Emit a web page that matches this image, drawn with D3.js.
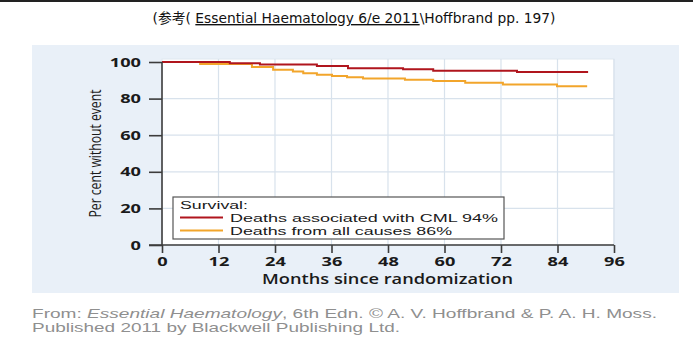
<!DOCTYPE html>
<html><head><meta charset="utf-8">
<script src="https://cdn.jsdelivr.net/npm/d3@7"></script>
<style>
html,body{margin:0;padding:0;background:#fff;}
svg{display:block;}
</style></head>
<body>
<svg id="chart" width="693" height="340"></svg>
<script>
// Data (months, per cent without event) – step curves
const cmlMonths   = [0, 14.4, 20.8, 32.9, 39.5, 51.2, 57.6, 75.4, 90.5];
const cmlValues   = [100, 99.3, 98.7, 97.8, 96.6, 96.0, 95.2, 94.6, 94.6];
const allMonths   = [0, 8.1, 19.1, 23.6, 27.8, 30.0, 32.9, 36.1, 39.3, 42.7, 51.6, 57.6, 64.4, 72.4, 83.9, 90.3];
const allValues   = [100, 98.9, 97.2, 95.7, 94.8, 93.9, 93.0, 92.4, 91.7, 91.0, 90.3, 89.6, 88.6, 87.7, 86.8, 86.8];
const xTicks = [0, 12, 24, 36, 48, 60, 72, 84, 96];
const yTicks = [0, 20, 40, 60, 80, 100];
const legendTitle = "Survival:";
const legendLabels = ["Deaths associated with CML 94%", "Deaths from all causes 86%"];
const seriesColors = ["#b0151d", "#f2a52b"];

const svg = d3.select("#chart");

// top rule
svg.append("rect").attr("x",0).attr("y",0).attr("width",693).attr("height",2).attr("fill","#222");

// title
const title = svg.append("text").attr("x",354).attr("y",23).attr("text-anchor","middle")
  .style("font-family","'DejaVu Sans', 'Noto Sans CJK SC', sans-serif").style("font-size","13.8px").attr("fill","#111");
title.append("tspan").text("(参考( ");
title.append("tspan").attr("text-decoration","underline").text("Essential Haematology 6/e 2011");
title.append("tspan").text("\\Hoffbrand pp. 197)");

// panel
svg.append("rect").attr("x",32).attr("y",45).attr("width",647).attr("height",248).attr("fill","#e9f0f8");

const x = d3.scaleLinear().domain([0,96]).range([162,614]);
const y = d3.scaleLinear().domain([0,100]).range([245,62]);

// plot white area
svg.append("rect").attr("x",x(0)).attr("y",59).attr("width",x(96)-x(0)).attr("height",y(0)-59)
  .attr("fill","#fff").attr("stroke","#dfe7ef").attr("stroke-width",1);

// gridlines
const g = svg.append("g");
g.selectAll(".vg").data(xTicks.filter(d=>d>0)).join("line")
  .attr("x1",d=>x(d)).attr("x2",d=>x(d)).attr("y1",59).attr("y2",y(0))
  .attr("stroke","#d8e2ec").attr("stroke-width",1.2);
g.selectAll(".hg").data(yTicks.filter(d=>d>0 && d<100)).join("line")
  .attr("x1",x(0)).attr("x2",x(96)).attr("y1",d=>y(d)).attr("y2",d=>y(d))
  .attr("stroke","#d8e2ec").attr("stroke-width",1.2);

// curves
const line = d3.line().x(d=>x(d[0])).y(d=>y(d[1])).curve(d3.curveStepAfter);
const allData = allMonths.map((m,i)=>[m, allValues[i]]);
const cmlData = cmlMonths.map((m,i)=>[m, cmlValues[i]]);
svg.append("path").attr("d",line(allData)).attr("fill","none").attr("stroke",seriesColors[1]).attr("stroke-width",2);
svg.append("path").attr("d",line(cmlData)).attr("fill","none").attr("stroke",seriesColors[0]).attr("stroke-width",2);

// axes
const axisFont = "'Open Sans', sans-serif";
const yAxis = svg.append("g").attr("transform",`translate(${x(0)},0)`)
  .call(d3.axisLeft(y).tickValues(yTicks).tickSize(13).tickPadding(8));
const xAxis = svg.append("g").attr("transform",`translate(0,${y(0)})`)
  .call(d3.axisBottom(x).tickValues(xTicks).tickSize(8).tickPadding(4));
[xAxis,yAxis].forEach(a=>{
  a.select(".domain").remove();
  a.selectAll("line").attr("stroke","#3c3c3c").attr("stroke-width",1.6);
  a.selectAll("text").style("font-family",axisFont).style("font-size","13px").style("font-weight","700").attr("fill","#1a1a1a")
    .attr("textLength",function(){return this.textContent.length*10.4;}).attr("lengthAdjust","spacingAndGlyphs");
});
svg.append("line").attr("x1",x(0)).attr("x2",x(0)).attr("y1",y(100)).attr("y2",y(0)).attr("stroke","#3c3c3c").attr("stroke-width",1.6);
svg.append("line").attr("x1",x(0)-13).attr("x2",x(96)).attr("y1",y(0)).attr("y2",y(0)).attr("stroke","#3c3c3c").attr("stroke-width",1.6);

// axis titles
svg.append("text").attr("x",(x(0)+x(96))/2 - 0.5).attr("y",284).attr("text-anchor","middle")
  .style("font-family",axisFont).style("font-size","13.5px").style("font-weight","600").attr("fill","#1a1a1a")
  .attr("textLength",251).attr("lengthAdjust","spacingAndGlyphs")
  .text("Months since randomization");
svg.append("text").attr("transform",`translate(101,${(y(0)+y(100))/2 + 0}) rotate(-90)`).attr("text-anchor","middle")
  .style("font-family","'Open Sans', sans-serif").style("font-size","16px").attr("fill","#1a1a1a")
  .attr("textLength",128).attr("lengthAdjust","spacingAndGlyphs")
  .text("Per cent without event");

// legend
const legendFont = "'Liberation Sans', Arial, sans-serif";
const lg = svg.append("g");
lg.append("rect").attr("x",173).attr("y",197).attr("width",331).attr("height",42)
  .attr("fill","#fff").attr("stroke","#555").attr("stroke-width",1.2);
lg.append("text").attr("x",180).attr("y",209).style("font-family",legendFont).style("font-size","11px").attr("fill","#1a1a1a")
  .attr("textLength",68).attr("lengthAdjust","spacingAndGlyphs").text(legendTitle);
const legendLens = [268, 222];
legendLabels.forEach((lab,i)=>{
  const yy = 217.5 + i*13;
  lg.append("line").attr("x1",180).attr("x2",223).attr("y1",yy).attr("y2",yy).attr("stroke",seriesColors[i]).attr("stroke-width",2);
  lg.append("text").attr("x",230).attr("y",yy+4.2).style("font-family",legendFont).style("font-size","11px").attr("fill","#1a1a1a")
    .attr("textLength",legendLens[i]).attr("lengthAdjust","spacingAndGlyphs").text(lab);
});

// footer
const f1 = svg.append("text").attr("x",32).attr("y",318).style("font-family","'Liberation Sans', Arial, sans-serif").style("font-size","13.5px").attr("fill","#8f8f8f")
  .attr("textLength",625).attr("lengthAdjust","spacingAndGlyphs");
f1.append("tspan").text("From: ");
f1.append("tspan").style("font-style","italic").text("Essential Haematology");
f1.append("tspan").text(", 6th Edn. © A. V. Hoffbrand & P. A. H. Moss.");
svg.append("text").attr("x",32).attr("y",332).style("font-family","'Liberation Sans', Arial, sans-serif").style("font-size","13.5px").attr("fill","#8f8f8f")
  .attr("textLength",368).attr("lengthAdjust","spacingAndGlyphs")
  .text("Published 2011 by Blackwell Publishing Ltd.");
</script>
</body></html>
